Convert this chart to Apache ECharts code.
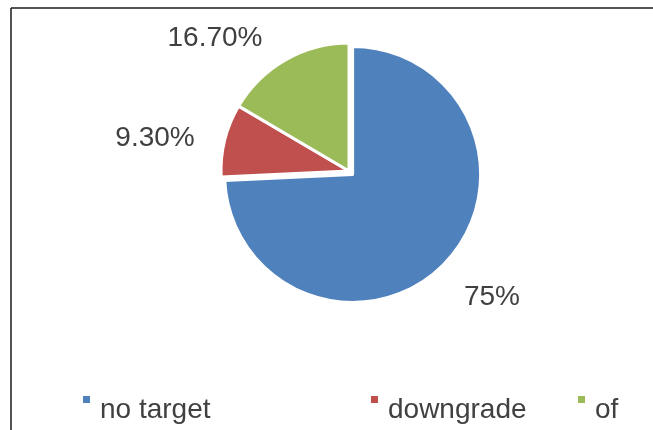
<!DOCTYPE html>
<html>
<head>
<meta charset="utf-8">
<script src="https://cdn.jsdelivr.net/npm/echarts@6/dist/echarts.min.js"></script>
<style>
  html, body { margin: 0; padding: 0; background: #fff; }
  #chart { width: 653px; height: 430px; }
</style>
</head>
<body>
<div id="chart"></div>
<script>
// Share of each category (percent)
const categories = ['no target', 'downgrade', 'of'];
const values = [75, 9.3, 16.7];
const colors = ['#4F81BD', '#C0504D', '#9BBB59'];

// Label anchor points (pixel centres) per slice
const labelSpots = [[492, 297], [155, 138], [215, 38]];
// Legend left edges per item
const legendLefts = [76, 364, 571];

const chart = echarts.init(document.getElementById('chart'), null, { renderer: 'canvas' });

const fmt = v => (Number.isInteger(v) ? String(v) : v.toFixed(2)) + '%';

// Square marker sitting at the top of a taller icon box
const topSquare = 'path://M0,0H9V9H0ZM0,30H9V30H0Z';

const legends = categories.map((name, i) => ({
  data: [{ name, icon: topSquare }],
  left: legendLefts[i],
  top: 389,
  orient: 'horizontal',
  itemWidth: 9,
  itemHeight: 30,
  selectedMode: false,
  textStyle: {
    fontFamily: 'Liberation Sans, Arial, sans-serif',
    fontSize: 28,
    color: '#404040',
    padding: [0, 0, 0, 4]
  }
}));

const pieBase = {
  type: 'pie',
  center: [349, 171],
  radius: [0, 128],
  startAngle: 90,
  clockwise: true,
  emphasis: { disabled: true }
};

chart.setOption({
  animation: false,
  backgroundColor: '#ffffff',
  color: colors,
  legend: legends,
  graphic: [
    { type: 'line', shape: { x1: 11, y1: 8, x2: 653, y2: 8 }, style: { stroke: '#1a1a1a', lineWidth: 1.5 } },
    { type: 'line', shape: { x1: 11, y1: 8, x2: 11, y2: 430 }, style: { stroke: '#1a1a1a', lineWidth: 1.5 } }
  ],
  series: [
    // Slices, with the first one pulled out slightly
    Object.assign({}, pieBase, {
      selectedMode: 'multiple',
      selectedOffset: 5,
      itemStyle: { borderColor: '#ffffff', borderWidth: 3 },
      label: { show: false },
      labelLine: { show: false },
      data: categories.map((name, i) => ({ name, value: values[i], selected: i === 0 }))
    }),
    // Percentage labels for the same slices
    Object.assign({}, pieBase, {
      silent: true,
      itemStyle: { color: 'rgba(0,0,0,0)', borderWidth: 0 },
      label: {
        show: true,
        position: 'outside',
        formatter: p => fmt(p.value),
        fontFamily: 'Liberation Sans, Arial, sans-serif',
        fontSize: 28,
        color: '#404040'
      },
      labelLine: { show: false },
      labelLayout: params => ({
        x: labelSpots[params.dataIndex][0],
        y: labelSpots[params.dataIndex][1],
        align: 'center',
        verticalAlign: 'middle'
      }),
      data: categories.map((name, i) => ({ name, value: values[i] }))
    })
  ]
});
</script>
</body>
</html>
